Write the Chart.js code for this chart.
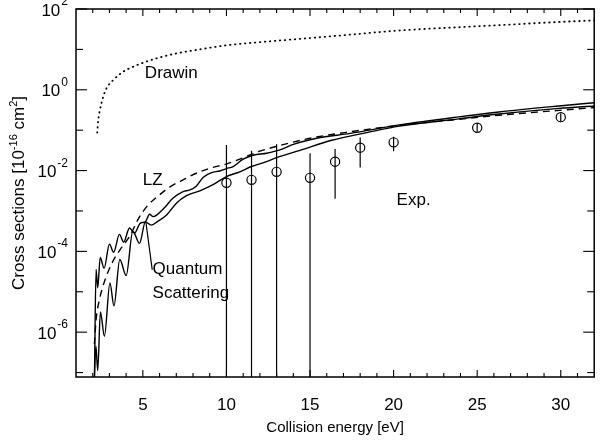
<!DOCTYPE html>
<html>
<head>
<meta charset="utf-8">
<script src="https://cdn.jsdelivr.net/npm/chart.js@4.4.1/dist/chart.umd.min.js"></script>
<style>
  html, body { margin: 0; background: #fff; }
  #wrap { width: 600px; height: 442px; position: relative; }
</style>
</head>
<body>
<div id="wrap"><canvas id="xsec"></canvas></div>
<script>
// collision energy [eV] and cross sections [1e-16 cm^2]
const drawinE = [2.27, 2.33, 2.43, 2.63, 2.83, 3.23, 3.83, 4.42, 5.22, 6.0, 7.0, 8.4, 10, 12, 14.4, 17, 20.4, 24, 26.3, 29, 32];
const drawinSigma = [0.087, 0.178, 0.316, 0.676, 1.10, 1.74, 2.82, 3.72, 5.01, 6.31, 7.94, 10.0, 12.6, 15.1, 18.2, 22.4, 29.5, 35.5, 39.8, 45.7, 52.5];

const lzE = [2.1, 2.2, 2.4, 2.7, 3.2, 3.65, 4.25, 4.72, 5.22, 6.0, 6.6, 7.4, 8.4, 9.2, 10.0, 11.2, 12.0, 13.0, 15.0, 17.4, 20.35, 23.9, 26.3, 29.9, 32];
const lzSigma = [5.0e-7, 2.0e-6, 6.3e-6, 1.78e-5, 5.6e-5, 1.12e-4, 2.51e-4, 6.3e-4, 1.26e-3, 2.51e-3, 3.89e-3, 5.89e-3, 9.33e-3, 1.2e-2, 1.45e-2, 2.24e-2, 3.02e-2, 3.98e-2, 6.31e-2, 9.12e-2, 0.132, 0.186, 0.234, 0.309, 0.363];

const qsUpperE = [2.1, 2.2, 2.3, 2.45, 2.68, 3.0, 3.25, 3.6, 3.85, 4.2, 4.5, 4.85, 5.15, 5.4, 5.62, 6.22, 6.81, 7.41, 7.81, 8.21, 8.6, 9.1, 9.6, 10.0, 10.4, 11.0, 11.6, 12.4, 13.2, 14.0, 15.4, 17.4, 20.35, 23.9, 26.3, 29.9, 32];
const qsUpperSigma = [5.0e-8, 3.55e-5, 1.26e-5, 7.08e-5, 3.8e-5, 1.51e-4, 9.55e-5, 2.63e-4, 1.7e-4, 3.8e-4, 2.82e-4, 5.01e-4, 5.37e-4, 8.32e-4, 7.24e-4, 1.12e-3, 2.09e-3, 3.02e-3, 3.31e-3, 4.17e-3, 6.76e-3, 8.91e-3, 9.77e-3, 1.12e-2, 1.26e-2, 1.91e-2, 2.4e-2, 2.69e-2, 3.24e-2, 4.47e-2, 6.31e-2, 8.32e-2, 0.135, 0.214, 0.282, 0.398, 0.479];

const qsLowerE = [2.08, 2.19, 2.3, 2.46, 2.7, 3.03, 3.27, 3.62, 4.0, 4.4, 4.8, 5.15, 5.5, 5.85, 6.42, 7.02, 7.61, 8.41, 9.2, 10.0, 10.8, 11.5, 12.4, 13.0, 14.4, 16.3, 18.4, 20.35, 23.9, 26.3, 29.9, 32];
const qsLowerSigma = [5.0e-8, 4.47e-7, 1.12e-7, 3.16e-6, 7.94e-7, 1.66e-5, 4.47e-6, 6.31e-5, 2.51e-5, 3.16e-4, 1.58e-4, 5.37e-4, 4.47e-4, 5.37e-4, 7.94e-4, 1.58e-3, 2.4e-3, 3.16e-3, 4.47e-3, 7.08e-3, 9.33e-3, 1.26e-2, 1.66e-2, 2.09e-2, 3.16e-2, 5.62e-2, 8.71e-2, 0.126, 0.191, 0.251, 0.347, 0.398];

const expE = [10, 11.5, 13, 15, 16.5, 18, 20, 25, 30];
const expSigma = [5.0e-3, 5.9e-3, 9.3e-3, 6.6e-3, 1.66e-2, 3.7e-2, 5.0e-2, 0.115, 0.21];
const expHigh = [4.3e-2, 3.1e-2, 4.5e-2, 2.7e-2, 3.4e-2, 6.6e-2, 6.9e-2, 0.148, 0.26];
const expLow = [1e-8, 1e-8, 1e-8, 1e-8, 2.0e-3, 1.2e-2, 3.0e-2, 9.1e-2, 0.162];

// leader from the quantum curves to their label
const leaderE = [5.18, 5.56];
const leaderSigma = [5.37e-4, 3.5e-5];

const xMajorTicks = [5, 10, 15, 20, 25, 30];
const xMinorTicks = [2, 3, 4, 6, 7, 8, 9, 11, 12, 13, 14, 16, 17, 18, 19, 21, 22, 23, 24, 26, 27, 28, 29, 31];
const yMajorTicks = [1e-6, 1e-4, 1e-2, 1, 100];
const yMajorExp = ["-6", "-4", "-2", "0", "2"];
const yMinorTicks = [1e-7, 1e-5, 1e-3, 0.1, 10];

const notes = [
  { text: "Drawin", x: 5.12, y: 2.6 },
  { text: "LZ", x: 5.0, y: 5.9e-3 },
  { text: "Exp.", x: 20.18, y: 1.86e-3 },
  { text: "Quantum", x: 5.58, y: 3.5e-5 },
  { text: "Scattering", x: 5.58, y: 9.3e-6 }
];

const FONT = "'Liberation Sans', Arial, Helvetica, sans-serif";

function toPoints(xs, ys) {
  return xs.map((v, i) => ({ x: v, y: ys[i] }));
}

function errorBarPoints() {
  const pts = [];
  expE.forEach((e, i) => {
    pts.push({ x: e, y: expHigh[i] }, { x: e, y: expLow[i] }, { x: e, y: null });
  });
  return pts;
}

const curve = { borderColor: "#000", borderWidth: 1.4, pointRadius: 0, fill: false, cubicInterpolationMode: "monotone" };

const frame = {
  id: "frame",
  afterDatasetsDraw(chart) {
    const { ctx, chartArea: a, scales: { x, y } } = chart;
    const seg = (x1, y1, x2, y2) => { ctx.beginPath(); ctx.moveTo(x1, y1); ctx.lineTo(x2, y2); ctx.stroke(); };
    ctx.save();
    ctx.strokeStyle = "#000";
    ctx.lineWidth = 1.5;
    ctx.strokeRect(a.left, a.top, a.right - a.left, a.bottom - a.top);
    ctx.lineWidth = 1.1;
    xMajorTicks.forEach((v) => { const p = x.getPixelForValue(v); seg(p, a.bottom, p, a.bottom - 7); seg(p, a.top, p, a.top + 7); });
    xMinorTicks.forEach((v) => { const p = x.getPixelForValue(v); seg(p, a.bottom, p, a.bottom - 4); seg(p, a.top, p, a.top + 4); });
    yMajorTicks.forEach((v) => { const p = y.getPixelForValue(v); seg(a.left, p, a.left + 11, p); seg(a.right, p, a.right - 11, p); });
    yMinorTicks.forEach((v) => { const p = y.getPixelForValue(v); seg(a.left, p, a.left + 7, p); seg(a.right, p, a.right - 7, p); });

    ctx.fillStyle = "#000";
    ctx.font = `17px ${FONT}`;
    ctx.textAlign = "center";
    ctx.textBaseline = "middle";
    xMajorTicks.forEach((v) => ctx.fillText(String(v), x.getPixelForValue(v), a.bottom + 28));

    ctx.textAlign = "left";
    yMajorTicks.forEach((v, i) => {
      const p = y.getPixelForValue(v);
      ctx.font = `12px ${FONT}`;
      const we = ctx.measureText(yMajorExp[i]).width;
      ctx.font = `17px ${FONT}`;
      const wb = ctx.measureText("10").width;
      const right = a.left - 8;
      ctx.textBaseline = "middle";
      ctx.fillText("10", right - we - wb - 1, p + 2);
      ctx.font = `12px ${FONT}`;
      ctx.textBaseline = "alphabetic";
      ctx.fillText(yMajorExp[i], right - we, p - 4);
    });

    ctx.font = `15px ${FONT}`;
    ctx.textAlign = "center";
    ctx.textBaseline = "middle";
    ctx.fillText("Collision energy [eV]", (a.left + a.right) / 2, a.bottom + 51);

    // rotated y title with superscripts
    const parts = [["Cross sections [10", 17, 0], ["-16", 11, -7], [" cm", 17, 0], ["2", 11, -7], ["]", 17, 0]];
    ctx.save();
    ctx.translate(18, (a.top + a.bottom) / 2);
    ctx.rotate(-Math.PI / 2);
    let total = 0;
    parts.forEach(([t, s]) => { ctx.font = `${s}px ${FONT}`; total += ctx.measureText(t).width; });
    let cx = -total / 2;
    ctx.textAlign = "left";
    ctx.textBaseline = "alphabetic";
    parts.forEach(([t, s, dy]) => {
      ctx.font = `${s}px ${FONT}`;
      ctx.fillText(t, cx, 6 + dy);
      cx += ctx.measureText(t).width;
    });
    ctx.restore();

    ctx.font = `17px ${FONT}`;
    ctx.textAlign = "left";
    ctx.textBaseline = "middle";
    notes.forEach((n) => ctx.fillText(n.text, x.getPixelForValue(n.x), y.getPixelForValue(n.y)));
    ctx.restore();
  }
};

new Chart(document.getElementById("xsec"), {
  type: "line",
  data: {
    datasets: [
      { ...curve, data: toPoints(drawinE, drawinSigma), borderWidth: 1.8, borderDash: [0.5, 4.5], borderCapStyle: "round" },
      { ...curve, data: toPoints(lzE, lzSigma), borderDash: [7, 5] },
      { ...curve, data: toPoints(qsUpperE, qsUpperSigma) },
      { ...curve, data: toPoints(qsLowerE, qsLowerSigma) },
      { data: errorBarPoints(), borderColor: "#000", borderWidth: 1.2, pointRadius: 0, spanGaps: false, tension: 0 },
      { data: toPoints(expE, expSigma), showLine: false, pointRadius: 4.6, pointBorderWidth: 1.2, pointBorderColor: "#000", pointBackgroundColor: "rgba(0,0,0,0)" },
      { data: toPoints(leaderE, leaderSigma), borderColor: "#000", borderWidth: 1.2, pointRadius: 0, tension: 0 }
    ]
  },
  options: {
    responsive: true,
    maintainAspectRatio: false,
    animation: false,
    layout: { padding: { left: 76, top: 9, right: 5, bottom: 65 } },
    plugins: { legend: { display: false }, tooltip: { enabled: false } },
    scales: {
      x: { type: "linear", min: 1, max: 32, display: false },
      y: { type: "logarithmic", min: 7.76e-8, max: 100, display: false }
    }
  },
  plugins: [frame]
});
</script>
</body>
</html>
